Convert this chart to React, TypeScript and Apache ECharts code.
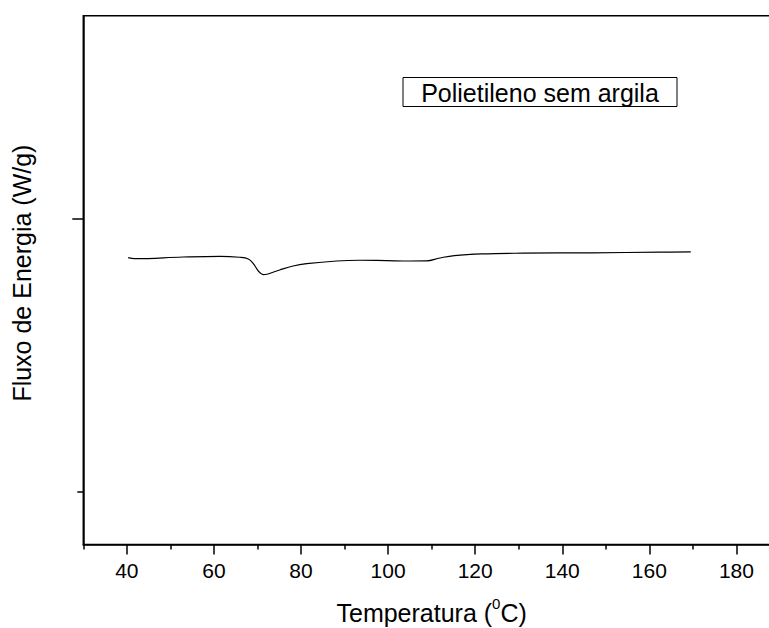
import React, { useEffect, useRef } from "react";
import * as echarts from "echarts";

// Temperature (°C)
const temperature = [
  40.3, 41.8, 52.9, 61.4, 65.9, 67.9, 69.0, 70.2, 71.3, 72.4, 75.1, 78.2, 81.3,
  88.2, 93.5, 99.6, 105.0, 108.8, 111.9, 115.2, 121.5, 131.0, 146.7, 162.4, 169.5,
];
// Heat flow (arbitrary units, major tick = 0)
const heatFlow = [
  -0.0717, -0.0735, -0.0704, -0.0691, -0.0709, -0.074, -0.0819, -0.096, -0.1027,
  -0.1015, -0.0941, -0.0868, -0.0826, -0.0777, -0.0764, -0.0771, -0.0777, -0.0775,
  -0.0722, -0.0678, -0.0647, -0.0634, -0.0627, -0.0616, -0.0609,
];

const xMajorTicks = [40, 60, 80, 100, 120, 140, 160, 180];
const xMinorTicks = [30, 50, 70, 90, 110, 130, 150, 170, 190];
const yMajorTicks = [0];
const yMinorTicks = [-0.5];
const xRange = [30, 190];
const yRange = [-0.596, 0.3707];
const legendText = "Polietileno sem argila";
const xTitle = "{t|Temperatura (}{s|0}{t|C)}";
const yTitle = "Fluxo de Energia (W/g)";

const FONT = "'Liberation Sans', Arial, sans-serif";

export default function App() {
  const ref = useRef<HTMLDivElement>(null);

  useEffect(() => {
    if (!ref.current) return;
    const chart = echarts.init(ref.current, undefined, { renderer: "svg" });
    const black = "#000";
    const axisLineStyle = { color: black, width: 1.5 };

    const tickOnlyX = (values: number[], length: number) => ({
      type: "value",
      min: xRange[0],
      max: xRange[1],
      position: "bottom",
      axisLine: { show: false, onZero: false },
      axisTick: { show: true, customValues: values, length, lineStyle: axisLineStyle },
      axisLabel: { show: false },
      splitLine: { show: false },
    });
    const tickOnlyY = (values: number[], length: number) => ({
      type: "value",
      min: yRange[0],
      max: yRange[1],
      position: "left",
      axisLine: { show: false, onZero: false },
      axisTick: { show: true, customValues: values, length, lineStyle: axisLineStyle },
      axisLabel: { show: false },
      splitLine: { show: false },
    });

    chart.setOption({
      animation: false,
      backgroundColor: "#fff",
      grid: {
        left: 83.3,
        right: 20,
        top: 15.7,
        bottom: 83.5,
        show: true,
        borderColor: black,
        borderWidth: 1.5,
        containLabel: false,
        outerBoundsMode: "none",
      },
      xAxis: [
        {
          type: "value",
          min: xRange[0],
          max: xRange[1],
          position: "bottom",
          axisLine: { show: true, onZero: false, lineStyle: axisLineStyle },
          axisTick: { show: false },
          axisLabel: {
            show: true,
            customValues: xMajorTicks,
            color: black,
            fontSize: 21,
            fontFamily: FONT,
            margin: 15,
          },
          splitLine: { show: false },
          name: xTitle,
          nameLocation: "middle",
          nameGap: 51,
          nameTextStyle: {
            color: black,
            fontSize: 25,
            fontFamily: FONT,
            rich: {
              t: { fontSize: 25, fontFamily: FONT, color: black, lineHeight: 34 },
              s: { fontSize: 15, fontFamily: FONT, color: black, verticalAlign: "top" },
            },
          },
        },
        tickOnlyX(xMajorTicks, 10),
        tickOnlyX(xMinorTicks, 5),
      ],
      yAxis: [
        {
          type: "value",
          min: yRange[0],
          max: yRange[1],
          position: "left",
          axisLine: { show: true, onZero: false, lineStyle: axisLineStyle },
          axisTick: { show: false },
          axisLabel: { show: false },
          splitLine: { show: false },
          name: yTitle,
          nameLocation: "middle",
          nameGap: 49,
          nameTextStyle: {
            color: black,
            fontSize: 25,
            fontFamily: FONT,
            padding: [0, 0, 0, 14],
          },
        },
        tickOnlyY(yMajorTicks, 11),
        tickOnlyY(yMinorTicks, 6),
      ],
      graphic: [
        {
          type: "group",
          children: [
            {
              type: "rect",
              shape: { x: 403, y: 77.5, width: 274, height: 29 },
              style: { fill: "none", stroke: black, lineWidth: 1 },
            },
            {
              type: "text",
              x: 540,
              y: 92.5,
              style: {
                text: legendText,
                fontSize: 25,
                fontFamily: FONT,
                fill: black,
                align: "center",
                verticalAlign: "middle",
              },
            },
          ],
        },
      ],
      series: [
        {
          type: "line",
          xAxisIndex: 0,
          yAxisIndex: 0,
          data: temperature.map((t, i) => [t, heatFlow[i]]),
          smooth: 0.4,
          showSymbol: false,
          symbol: "none",
          lineStyle: { color: black, width: 1.2 },
          silent: true,
        },
      ],
    });

    return () => chart.dispose();
  }, []);

  return (
    <div
      style={{
        position: "fixed",
        left: 0,
        top: 0,
        width: 769,
        height: 628,
        overflow: "hidden",
        background: "#fff",
      }}
    >
      <div ref={ref} style={{ width: 800, height: 628 }} />
    </div>
  );
}
